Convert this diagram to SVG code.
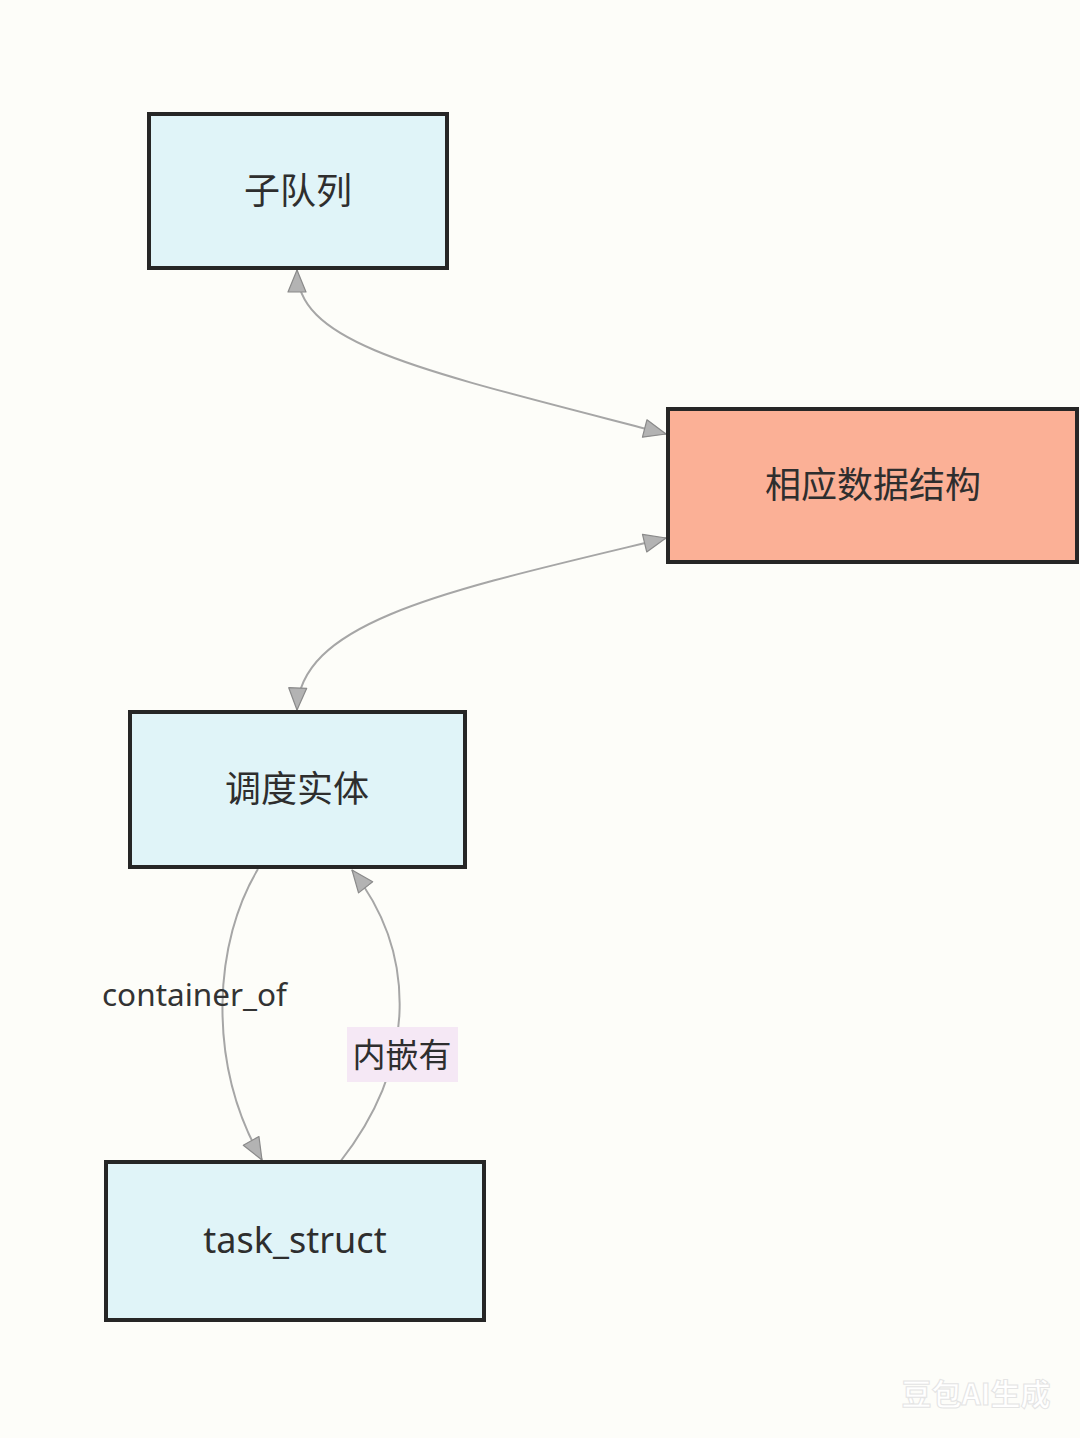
<svg xmlns="http://www.w3.org/2000/svg" width="1080" height="1438" viewBox="0 0 1080 1438">
  <defs>
    <marker id="arr" viewBox="0 0 24 20" refX="23" refY="10" markerWidth="24" markerHeight="20" markerUnits="userSpaceOnUse" orient="auto-start-reverse">
      <path d="M1,1 L23,10 L1,19 Z" fill="#b3b3b3" stroke="#8a8a8a" stroke-width="1.2" stroke-linejoin="round"/>
    </marker>
    <style>
      .node-blue { fill: #e0f4f8; stroke: #262626; stroke-width: 4; }
      .node-salmon { fill: #fbb096; stroke: #262626; stroke-width: 4; }
      .ntext { font-family: "Noto Sans CJK SC", "Noto Sans", sans-serif; font-size: 36px; fill: #2e2e2e; text-anchor: middle; }
      .etext { font-family: "Noto Sans", "Open Sans", "Noto Sans CJK SC", sans-serif; font-size: 31.5px; fill: #333; }
      .conn { fill: none; stroke: #a6a6a6; stroke-width: 2; }
    </style>
  </defs>
  <rect x="0" y="0" width="1080" height="1438" fill="#fdfdf9"/>

  <g id="connectors">
    <path class="conn" d="M297,270 C297,345 420,370 666,434" marker-start="url(#arr)" marker-end="url(#arr)"/>
    <path class="conn" d="M666,538 C450,590 300,620 297,710" marker-start="url(#arr)" marker-end="url(#arr)"/>
    <path class="conn" d="M258,869 C215,940 205,1060 262,1160" marker-end="url(#arr)"/>
    <path class="conn" d="M340,1162 C420,1060 415,950 352,870" marker-end="url(#arr)"/>
    <g id="label-container-of">
      <text class="etext" x="102" y="1006">container_of</text>
    </g>
    <g id="label-embed">
      <rect x="347" y="1027" width="111" height="55" fill="#f5e8f5"/>
      <text class="ntext" x="402" y="1067" style="font-size:33px">内嵌有</text>
    </g>
  </g>

  <g id="node-subqueue">
    <rect class="node-blue" x="149" y="114" width="298" height="154"/>
    <text class="ntext" x="298" y="204">子队列</text>
  </g>
  <g id="node-datastruct">
    <rect class="node-salmon" x="668" y="409" width="409" height="153"/>
    <text class="ntext" x="873" y="498">相应数据结构</text>
  </g>
  <g id="node-sched-entity">
    <rect class="node-blue" x="130" y="712" width="335" height="155"/>
    <text class="ntext" x="297" y="802">调度实体</text>
  </g>
  <g id="node-task-struct">
    <rect class="node-blue" x="106" y="1162" width="378" height="158"/>
    <text class="ntext" x="295" y="1253" style="font-family:'Noto Sans','Open Sans',sans-serif;font-size:36px">task_struct</text>
  </g>

  <text x="976" y="1405" text-anchor="middle" font-family="Noto Sans CJK SC, sans-serif" font-size="30" font-weight="bold" fill="#ffffff" stroke="#e4e4e4" stroke-width="1">豆包AI生成</text>
</svg>
